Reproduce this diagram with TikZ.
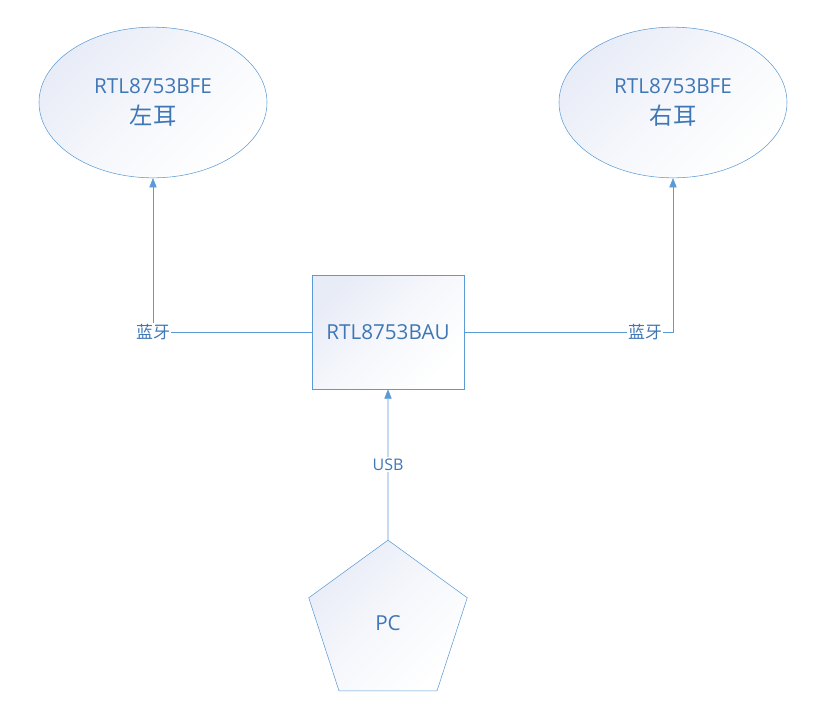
\documentclass[tikz,border=0pt]{standalone}
\usepackage{fontspec}
\setmainfont{Open Sans}
\newfontfamily\cjk{Noto Sans CJK SC}
\usepackage{xcolor}
\usetikzlibrary{arrows.meta, shapes.geometric}

\definecolor{lineblue}{HTML}{5B9BD5}
\definecolor{textblue}{HTML}{3F77B6}
\definecolor{shadetop}{HTML}{E8ECF7}

\begin{document}
\begin{tikzpicture}[x=0.75pt, y=-0.75pt,
    ear/.style={ellipse, draw=lineblue, minimum width=171pt, minimum height=113pt, inner sep=0pt, shading=axis, top color=shadetop, bottom color=white, middle color=white!60!shadetop, shading angle=45, text=textblue, align=center, font=\fontsize{15.5}{19}\selectfont},
    chip/.style={rectangle, draw=lineblue, minimum width=114pt, minimum height=85.5pt, shading=axis, top color=shadetop, bottom color=white, middle color=white!60!shadetop, shading angle=45, text=textblue, font=\fontsize{15.5}{19}\selectfont},
    host/.style={regular polygon, regular polygon sides=5, draw=lineblue, minimum size=125pt, inner sep=0pt, shading=axis, top color=shadetop, bottom color=white, middle color=white!60!shadetop, shading angle=45, text=textblue, font=\fontsize{15.5}{19}\selectfont},
    link/.style={-{Triangle[length=7pt, width=5.5pt]}, draw=lineblue},
    tag/.style={fill=white, text=textblue, inner sep=1pt, font=\fontsize{12}{14}\selectfont},
]
\useasboundingbox (0,0) rectangle (821,715);

\node[ear] (left) at (153,102.5) {RTL8753BFE\\[4pt] {\cjk\fontsize{17.5}{21}\selectfont 左耳}};
\node[ear] (right) at (673,102.5) {RTL8753BFE\\[4pt] {\cjk\fontsize{17.5}{21}\selectfont 右耳}};
\node[chip] (bau) at (388,332) {RTL8753BAU};
\node[host] (pc) at (388,623.5) {PC};

\draw[link] (bau.west) -| node[tag, pos=0.5] {\cjk\fontsize{12.7}{15}\selectfont 蓝牙} (left.south);
\draw[link] (bau.east) -| node[tag, pos=0.433] {\cjk\fontsize{12.7}{15}\selectfont 蓝牙} (right.south);
\draw[link] (pc.north) -- node[tag] {USB} (bau.south);
\end{tikzpicture}
\end{document}
